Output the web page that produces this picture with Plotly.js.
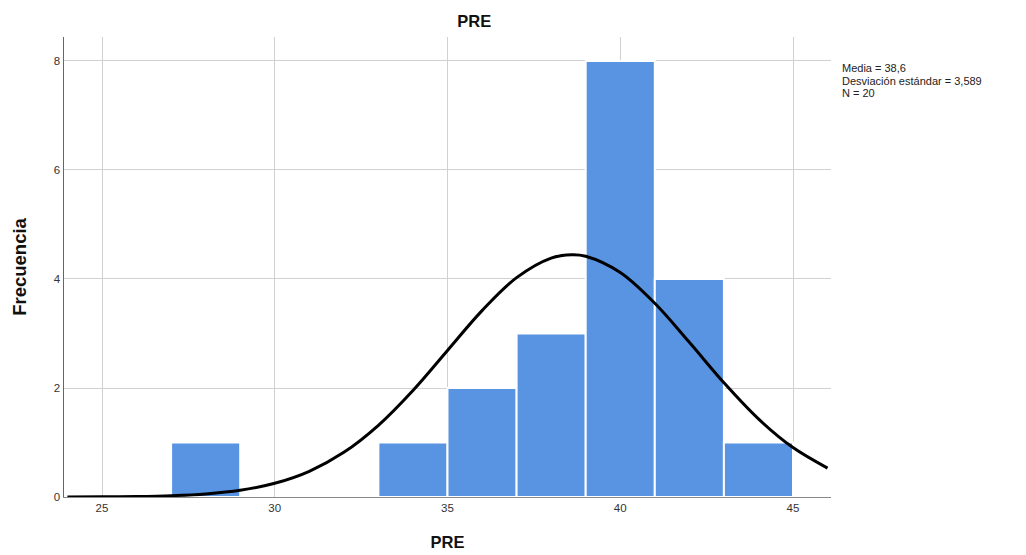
<!DOCTYPE html>
<html>
<head>
<meta charset="utf-8">
<script src="https://cdn.plot.ly/plotly-3.0.1.min.js"></script>
<style>html,body{margin:0;padding:0;background:#fff;}#chart{width:1026px;height:555px;}</style>
</head>
<body>
<div id="chart"></div>
<script>
// Histogram bins (centers, width 2) and frequencies
const binCenters = [28, 34, 36, 38, 40, 42, 44];
const binCounts  = [1, 1, 2, 3, 8, 4, 1];

// Normal curve (Media = 38,6; DE = 3,589; N = 20)
const curveX = [24, 25, 26, 27, 28, 29, 30, 31, 32, 33, 34, 35, 36, 37, 38, 38.6, 39, 40, 41, 42, 43, 44, 45, 46];
const curveY = [0.001, 0.003, 0.009, 0.024, 0.057, 0.124, 0.252, 0.472, 0.82, 1.316, 1.955, 2.689, 3.42, 4.025, 4.384, 4.446, 4.418, 4.12, 3.555, 2.839, 2.097, 1.433, 0.907, 0.531];

const xTicks = [25, 30, 35, 40, 45];
const yTicks = [0, 2, 4, 6, 8];
const statsLines = ["Media = 38,6", "Desviación estándar = 3,589", "N = 20"];

const font = "Liberation Sans, Arial, sans-serif";

const traces = [
  {
    type: "bar",
    x: binCenters,
    y: binCounts,
    width: binCenters.map(() => 2),
    marker: {color: "#5894e2", line: {color: "#ffffff", width: 2}},
    hoverinfo: "x+y",
    showlegend: false
  },
  {
    type: "scatter",
    mode: "lines",
    x: curveX,
    y: curveY,
    line: {color: "#000000", width: 3, shape: "spline"},
    showlegend: false
  }
];

const annotations = statsLines.map((t, i) => ({
  xref: "paper", yref: "paper",
  x: 1.0115, y: 0.95 - i * 0.0272,
  xanchor: "left", yanchor: "top",
  align: "left",
  showarrow: false,
  text: t,
  font: {family: font, size: 11, color: "#222222"}
}));

const layout = {
  width: 1026,
  height: 555,
  margin: {l: 64, r: 195, t: 37, b: 58},
  paper_bgcolor: "#ffffff",
  plot_bgcolor: "#ffffff",
  font: {family: font, color: "#222222", size: 11},
  title: {text: "<b>PRE</b>", font: {family: font, size: 16.5, color: "#111111"}, x: 0.5348, xref: "paper", y: 0.961, yanchor: "middle"},
  bargap: 0,
  xaxis: {
    range: [23.9, 46.1],
    tickvals: xTicks,
    ticktext: xTicks.map(String),
    showgrid: true,
    gridcolor: "#d0d0d0",
    gridwidth: 1,
    zeroline: false,
    showline: true,
    linecolor: "#888888",
    linewidth: 1,
    ticks: "",
    ticklen: 0,
    tickfont: {family: font, size: 11.5, color: "#333333"},
    title: {text: "<b>PRE</b>", font: {family: font, size: 16.5, color: "#111111"}, standoff: 23}
  },
  yaxis: {
    range: [0, 8.44],
    tickvals: yTicks,
    ticktext: yTicks.map(String),
    showgrid: true,
    gridcolor: "#d0d0d0",
    gridwidth: 1,
    zeroline: false,
    showline: true,
    linecolor: "#666666",
    linewidth: 1.5,
    ticks: "",
    tickfont: {family: font, size: 11.5, color: "#333333"},
    title: {text: "<b>Frecuencia</b>", font: {family: font, size: 18.5, color: "#111111"}, standoff: 22}
  },
  annotations: annotations
};

Plotly.newPlot("chart", traces, layout, {displayModeBar: false, staticPlot: true});
</script>
</body>
</html>
